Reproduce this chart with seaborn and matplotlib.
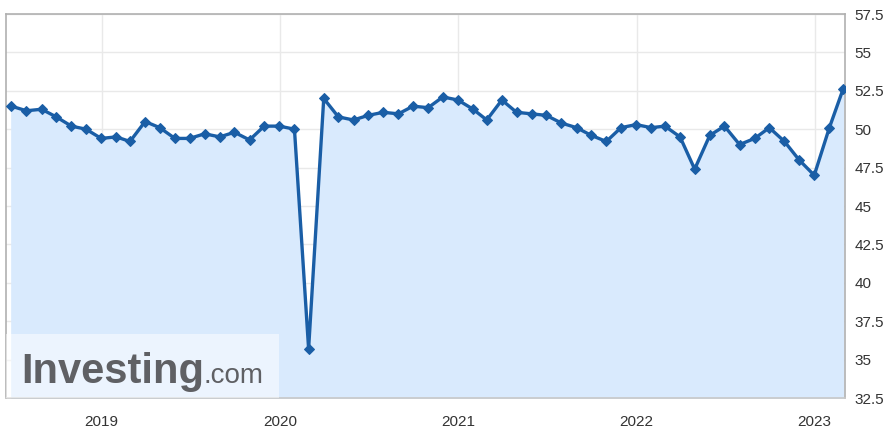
import pandas as pd
import seaborn as sns
import matplotlib.pyplot as plt
from matplotlib.patches import Rectangle

# 官方制造业PMI（按发布日期，月末）
start_month = '2018-06-30'
pmi_values = [
    51.5, 51.2, 51.3, 50.8, 50.2, 50.0, 49.4,
    49.5, 49.2, 50.5, 50.1, 49.4, 49.4, 49.7, 49.5, 49.8, 49.3, 50.2, 50.2,
    50.0, 35.7, 52.0, 50.8, 50.6, 50.9, 51.1, 51.0, 51.5, 51.4, 52.1, 51.9,
    51.3, 50.6, 51.9, 51.1, 51.0, 50.9, 50.4, 50.1, 49.6, 49.2, 50.1, 50.3,
    50.1, 50.2, 49.5, 47.4, 49.6, 50.2, 49.0, 49.4, 50.1, 49.2, 48.0, 47.0,
    50.1, 52.6,
]
year_labels = ['2019', '2020', '2021', '2022', '2023']
y_ticks = [32.5, 35, 37.5, 40, 42.5, 45, 47.5, 50, 52.5, 55, 57.5]

df = pd.DataFrame({
    'date': pd.date_range(start_month, periods=len(pmi_values), freq='ME'),
    'pmi': pmi_values,
})

sns.set_theme(style='white')
plt.rcParams['font.family'] = ['Liberation Sans', 'DejaVu Sans']

W, H = 893, 443
fig = plt.figure(figsize=(W / 100, H / 100), dpi=100)
ax = fig.add_axes([6 / W, 1 - 398 / H, (845 - 6) / W, (398 - 14) / H])

line_color = '#1a5ea6'
ax.fill_between(df['date'], df['pmi'], 32.5, color='#d9eafd', zorder=1)
sns.lineplot(data=df, x='date', y='pmi', ax=ax, color=line_color,
             linewidth=2.4, marker='D', markersize=5.5,
             markeredgecolor=line_color, zorder=3)

ax.set_xlim(pd.Timestamp('2018-06-19'), pd.Timestamp('2023-03-04'))
ax.set_ylim(32.5, 57.5)

ax.set_xticks([pd.Timestamp(f'{y}-01-01') for y in year_labels])
ax.set_xticklabels(year_labels)
ax.set_yticks(y_ticks)
ax.set_yticklabels([f'{v:g}' for v in y_ticks])
ax.yaxis.tick_right()
ax.tick_params(axis='both', length=0, labelsize=11, colors='#333333')
ax.tick_params(axis='y', pad=7)
ax.tick_params(axis='x', pad=12)
ax.set_xlabel('')
ax.set_ylabel('')

ax.grid(True, color='#e9e9e9', linewidth=1, zorder=0)
ax.set_axisbelow(True)
for side, sp in ax.spines.items():
    sp.set_visible(True)
    sp.set_color('#b0b0b0')
    sp.set_linewidth(1.2)
ax.spines['bottom'].set_color('#c8c8c8')

# 水印
ax.add_patch(Rectangle((0, 0), (279 - 6) / (845 - 6), (398 - 334) / (398 - 14),
                       transform=ax.transAxes, facecolor='white', alpha=0.5,
                       edgecolor='none', zorder=4))
fig.text(21 / W, 1 - 383 / H, 'Investing', fontsize=30, fontweight='bold',
         color='#5f6064', ha='left', va='baseline', zorder=5)
fig.text(203 / W, 1 - 383 / H, '.com', fontsize=20,
         color='#5f6064', ha='left', va='baseline', zorder=5)

fig.savefig('out.png', dpi=100)
plt.close(fig)
